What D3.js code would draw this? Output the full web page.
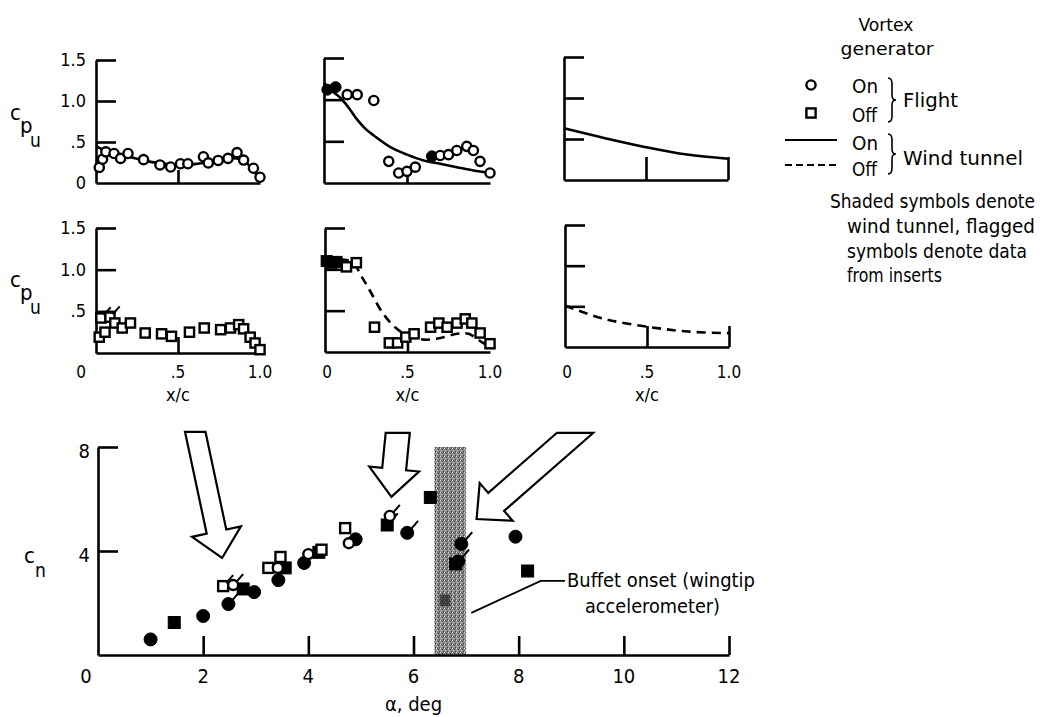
<!DOCTYPE html>
<html><head><meta charset="utf-8">
<script src="https://cdn.jsdelivr.net/npm/d3@7"></script>
<style>
body{margin:0;background:#fff;}
svg{display:block;}
text{font-family:"Liberation Sans Narrow","Arial Narrow","DejaVu Sans Condensed",sans-serif;fill:#000;}
</style></head><body>
<svg id="c" width="1041" height="717"></svg>
<script>
// ---------- DATA ----------
// Upper-surface pressure panels (x/c, c_pu)
const tlFlightOn = [[0.02,0.19],[0.04,0.29],[0.06,0.38],[0.11,0.36],[0.15,0.30],[0.195,0.36],[0.29,0.285],[0.39,0.22],[0.455,0.195],[0.515,0.235],[0.56,0.235],[0.655,0.32],[0.685,0.245],[0.745,0.275],[0.805,0.30],[0.86,0.37],[0.90,0.28],[0.96,0.18],[1.0,0.07]];
const tlTunnelOn = [[0,0.45],[0.05,0.4],[0.1,0.36],[0.2,0.32],[0.3,0.27],[0.4,0.24],[0.5,0.22],[0.6,0.23],[0.7,0.26],[0.8,0.3],[0.86,0.3],[0.9,0.27],[0.95,0.18],[1.0,0.03]];
const tmFlightOn = [[0.14,1.06],[0.2,1.06],[0.3,0.99],[0.39,0.26],[0.45,0.12],[0.5,0.14],[0.55,0.19],[0.7,0.33],[0.75,0.34],[0.8,0.39],[0.86,0.44],[0.9,0.39],[0.94,0.26],[1.0,0.12]];
const tmTunnelOnPts = [[0.02,1.12],[0.07,1.15],[0.65,0.32]];
const tmTunnelOn = [[0,1.2],[0.05,1.1],[0.1,1.02],[0.15,0.9],[0.2,0.76],[0.25,0.65],[0.3,0.57],[0.4,0.43],[0.5,0.34],[0.6,0.27],[0.7,0.23],[0.8,0.19],[0.9,0.15],[1.0,0.12]];
const trTunnelOn = [[0,0.63],[0.25,0.51],[0.5,0.40],[0.75,0.31],[1.0,0.26]];
const mlFlightOff = [[0.02,0.19],[0.055,0.25],[0.03,0.42],[0.085,0.43],[0.115,0.36],[0.16,0.3],[0.21,0.36],[0.3,0.24],[0.4,0.23],[0.46,0.2],[0.57,0.25],[0.66,0.3],[0.76,0.28],[0.82,0.3],[0.87,0.34],[0.9,0.29],[0.94,0.19],[0.97,0.12],[1.0,0.04]];
const mmFlightOff = [[0.13,1.03],[0.19,1.08],[0.3,0.3],[0.39,0.11],[0.44,0.11],[0.49,0.18],[0.54,0.22],[0.64,0.3],[0.69,0.35],[0.74,0.3],[0.8,0.35],[0.85,0.4],[0.89,0.35],[0.94,0.23],[1.0,0.1]];
const mmTunnelOffPts = [[0.01,1.1],[0.04,1.08],[0.07,1.09]];
const mmTunnelOff = [[0,1.12],[0.1,1.12],[0.17,1.08],[0.22,0.92],[0.27,0.75],[0.35,0.47],[0.43,0.29],[0.5,0.2],[0.6,0.15],[0.7,0.17],[0.8,0.22],[0.87,0.22],[0.95,0.12],[1.0,0.06]];
const mrTunnelOff = [[0,0.51],[0.23,0.35],[0.5,0.25],[0.75,0.19],[1.0,0.17]];
const panelYTicks = [0.5, 1.0, 1.5];
const topYLabels = [[0,"0"],[0.5,".5"],[1.0,"1.0"],[1.5,"1.5"]];
const midYLabels = [[0.5,".5"],[1.0,"1.0"],[1.5,"1.5"]];
const panelXLabels = [[0,"0"],[0.5,".5"],[1.0,"1.0"]];

// Normal-force coefficient vs angle of attack (alpha, c_n, flagged)
const flightOnCirc = [[2.57,2.69,1],[3.42,3.35,0],[4.0,3.88,0],[4.77,4.3,0],[5.55,5.35,1]];
const flightOffSq = [[2.38,2.65,1],[3.24,3.35,0],[3.47,3.77,0],[4.25,4.05,0],[4.7,4.88,0]];
const tunnelOnCirc = [[1.0,0.6,0],[2.0,1.5,0],[2.48,1.96,1],[2.97,2.42,0],[3.43,2.88,0],[3.92,3.54,0],[4.9,4.45,0],[5.88,4.7,1],[6.91,4.27,1],[6.85,3.6,1],[7.94,4.55,0]];
const tunnelOffSq = [[1.45,1.25,0],[2.76,2.54,0],[3.56,3.35,0],[4.2,3.95,0],[5.5,5.0,1],[6.32,6.06,0],[6.8,3.5,0],[8.17,3.23,0]];
const tunnelOffSqHidden = [[6.6,2.1,0]];
const buffetBand = [6.4, 7.0];
const alphaTicks = [0,2,4,6,8,10,12];
const cnTicks = [4,8];
// arrows: [tail alpha, tail cn, tip alpha, tip cn]
const arrowsData = [[1.85,8.58,2.36,3.73],[5.70,8.54,5.58,6.08],[9.07,8.54,7.2,5.23]];

// ---------- DRAW ----------
const svg = d3.select("#c");
const defs = svg.append("defs");
const pat = defs.append("pattern").attr("id","stip").attr("width",4).attr("height",4).attr("patternUnits","userSpaceOnUse");
pat.append("rect").attr("width",4).attr("height",4).attr("fill","#8e8e8e");
[[0,0,"#e8e8e8"],[2,1,"#303030"],[1,2,"#c8c8c8"],[3,3,"#404040"],[3,0,"#666"],[1,0,"#555"]].forEach(p=>pat.append("rect").attr("x",p[0]).attr("y",p[1]).attr("width",1).attr("height",1).attr("fill",p[2]));

function txt(g,x,y,s,size,anchor,len){
  const t=g.append("text").attr("x",x).attr("y",y).attr("font-size",size).attr("text-anchor",anchor||"start").text(s);
  if(len){t.attr("textLength",len).attr("lengthAdjust","spacingAndGlyphs");}
  return t;
}
function marker(g,type,x,y,r,flag){
  const open = type[0]==="o";
  if(type[1]==="c"){
    g.append("circle").attr("cx",x).attr("cy",y).attr("r",r).attr("fill",open?"#fff":"#000").attr("stroke","#000").attr("stroke-width",open?2.4:1);
  } else {
    g.append("rect").attr("x",x-r).attr("y",y-r).attr("width",2*r).attr("height",2*r).attr("fill",open?"#fff":"#000").attr("stroke","#000").attr("stroke-width",open?2.4:1);
  }
  if(flag){
    g.append("line").attr("x1",x+r*0.6).attr("y1",y-r*0.6).attr("x2",x+r*0.6+7).attr("y2",y-r*0.6-8).attr("stroke","#000").attr("stroke-width",2);
  }
}

const panels = [
  {xr:[96,260], yr:[183,60], xt:[0.5], xtl:13, yl:topYLabels, xl:null,
   curve:tlTunnelOn, dash:false, open:tlFlightOn, openType:"oc", filled:[], filledType:"fc"},
  {xr:[324,490], yr:[183,58], xt:[0.5], xtl:7, yl:null, xl:null,
   curve:tmTunnelOn, dash:false, open:tmFlightOn, openType:"oc", filled:tmTunnelOnPts, filledType:"fc"},
  {xr:[564,728], yr:[180,57], xt:[0.5,1.0], xtl:23, yl:null, xl:null,
   curve:trTunnelOn, dash:false, open:[], openType:"oc", filled:[], filledType:"fc"},
  {xr:[96,260], yr:[353,228], xt:[0.5], xtl:16, yl:midYLabels, xl:panelXLabels, zeroShift:-15,
   curve:null, dash:true, open:mlFlightOff, openType:"os", filled:[], filledType:"fs", flagIdx:[2,3]},
  {xr:[325,490], yr:[352,228], xt:[0.5], xtl:15, yl:null, xl:panelXLabels, zeroShift:2,
   curve:mmTunnelOff, dash:true, open:mmFlightOff, openType:"os", filled:mmTunnelOffPts, filledType:"fs"},
  {xr:[565,729], yr:[347,225], xt:[0.5,1.0], xtl:21, yl:null, xl:panelXLabels, zeroShift:2,
   curve:mrTunnelOff, dash:true, open:[], openType:"os", filled:[], filledType:"fs"}
];

panels.forEach(p=>{
  const g = svg.append("g");
  const xs = d3.scaleLinear([0,1],p.xr);
  const ys = d3.scaleLinear([0,1.5],p.yr);
  const ya = g.append("g").attr("transform",`translate(${p.xr[0]},0)`)
    .call(d3.axisLeft(ys).tickValues(panelYTicks).tickSizeInner(-20).tickSizeOuter(0).tickFormat(""));
  const xa = g.append("g").attr("transform",`translate(0,${p.yr[0]})`)
    .call(d3.axisBottom(xs).tickValues(p.xt).tickSizeInner(-p.xtl).tickSizeOuter(0).tickFormat(""));
  [ya,xa].forEach(a=>{a.selectAll("path,line").attr("stroke","#000").attr("stroke-width",2.6);});
  if(p.yl){p.yl.forEach(d=>txt(g,86,ys(d[0])+6,d[1],18,"end"));}
  if(p.xl){p.xl.forEach(d=>txt(g,xs(d[0])+(d[0]===0?p.zeroShift:0),378,d[1],17,"middle"));
    txt(g,(p.xr[0]+p.xr[1])/2,401,"x/c",18,"middle");}
  if(p.curve){
    g.append("path").datum(p.curve)
      .attr("d",d3.line().x(d=>xs(d[0])).y(d=>ys(d[1])).curve(d3.curveCatmullRom))
      .attr("fill","none").attr("stroke","#000").attr("stroke-width",2.6)
      .attr("stroke-dasharray",p.dash?"9,6":null);
  }
  p.filled.forEach(d=>marker(g,p.filledType,xs(d[0]),ys(d[1]),5.5,0));
  p.open.forEach((d,i)=>marker(g,p.openType,xs(d[0]),ys(d[1]),4.6,p.flagIdx&&p.flagIdx.includes(i)));
});

// c_pu labels
[[0,120],[1,287]].forEach(([k,b])=>{
  const g=svg.append("g");
  txt(g,10,b,"c",22);
  txt(g,20,b+13,"p",22);
  txt(g,30,b+27,"u",19);
});

// ---------- Bottom chart ----------
const xB = d3.scaleLinear([0,12],[98,729]);
const yB = d3.scaleLinear([0,8],[655,447]);
const gb = svg.append("g");
gb.append("rect").attr("x",xB(buffetBand[0])).attr("y",yB(8)).attr("width",xB(buffetBand[1])-xB(buffetBand[0])).attr("height",yB(0)-yB(8)).attr("fill","url(#stip)");
const xaB = gb.append("g").attr("transform",`translate(0,${yB(0)})`)
  .call(d3.axisBottom(xB).tickValues(alphaTicks.filter(v=>v>0)).tickSizeInner(-19).tickSizeOuter(0).tickFormat(""));
const yaB = gb.append("g").attr("transform",`translate(${xB(0)},0)`)
  .call(d3.axisLeft(yB).tickValues(cnTicks).tickSizeInner(-20).tickSizeOuter(0).tickFormat(""));
[xaB,yaB].forEach(a=>{a.selectAll("path,line").attr("stroke","#000").attr("stroke-width",2.6);});
alphaTicks.forEach(v=>txt(gb,xB(v)+(v===0?-12:0),683,String(v),20,"middle"));
cnTicks.forEach(v=>txt(gb,90,yB(v)+11,String(v),20,"end"));
txt(gb,xB(6),711,"α, deg",20,"middle");
txt(gb,24,563,"c",22);
txt(gb,35,577,"n",19);

tunnelOffSqHidden.forEach(d=>{gb.append("rect").attr("x",xB(d[0])-5).attr("y",yB(d[1])-6).attr("width",10).attr("height",12).attr("fill","#222").attr("opacity",0.7);});
tunnelOnCirc.forEach(d=>marker(gb,"fc",xB(d[0]),yB(d[1]),6.5,d[2]));
tunnelOffSq.forEach(d=>marker(gb,"fs",xB(d[0]),yB(d[1]),6,d[2]));
flightOffSq.forEach(d=>marker(gb,"os",xB(d[0]),yB(d[1]),5,d[2]));
flightOnCirc.forEach(d=>marker(gb,"oc",xB(d[0]),yB(d[1]),5,d[2]));

// arrows
const arrowDims=[[20,50,27],[24,50,28],[24,50,26]];
arrowsData.forEach((a,i)=>{
  const tail=[xB(a[0]),yB(a[1])], tip=[xB(a[2]),yB(a[3])];
  const L=Math.hypot(tip[0]-tail[0],tip[1]-tail[1]);
  const d=[(tip[0]-tail[0])/L,(tip[1]-tail[1])/L];
  const n=[-d[1],d[0]];
  const [w,hw,hl]=arrowDims[i];
  const base=[tip[0]-d[0]*hl,tip[1]-d[1]*hl];
  const side=s=>{
    const sb=[base[0]+n[0]*s*w/2,base[1]+n[1]*s*w/2];
    const wing=[base[0]+n[0]*s*hw/2,base[1]+n[1]*s*hw/2];
    const t=(sb[1]-tail[1])/d[1];
    const tp=[sb[0]-d[0]*t,sb[1]-d[1]*t];
    return {sb,wing,tp};
  };
  const A=side(1),B=side(-1);
  const pts=[A.tp,A.sb,A.wing,tip,B.wing,B.sb,B.tp];
  gb.append("path").attr("d","M"+pts.map(p=>p.join(",")).join("L")+"Z")
    .attr("fill","#fff").attr("stroke","#000").attr("stroke-width",2.2).attr("stroke-linejoin","miter");
});

gb.append("path").attr("d",`M${xB(7.1)},${yB(1.62)}L${xB(8.42)},${yB(2.85)}L${xB(8.88)},${yB(2.85)}`)
  .attr("fill","none").attr("stroke","#000").attr("stroke-width",1.8);
txt(gb,567,587,"Buffet onset (wingtip",19,"start",188);
txt(gb,585,613,"accelerometer)",19,"start",135);

// ---------- Legend ----------
const gl = svg.append("g");
txt(gl,886,31,"Vortex",18,"middle",55);
txt(gl,887,55,"generator",18,"middle",93);
marker(gl,"oc",811,85,4.6,0);
marker(gl,"os",811,113,4.6,0);
gl.append("line").attr("x1",785).attr("x2",837).attr("y1",140).attr("y2",140).attr("stroke","#000").attr("stroke-width",2);
gl.append("line").attr("x1",785).attr("x2",837).attr("y1",165).attr("y2",165).attr("stroke","#000").attr("stroke-width",2).attr("stroke-dasharray","7,4");
txt(gl,852,93,"On",20,"start",26);
txt(gl,852,122,"Off",20,"start",25);
txt(gl,852,150,"On",20,"start",26);
txt(gl,852,176,"Off",20,"start",25);
const brace=(x,y0,y1)=>{const m=(y0+y1)/2;
  gl.append("path").attr("d",`M${x},${y0} q4,0 4,6 V${m-5} q0,5 4,5 q-4,0 -4,5 V${y1-6} q0,6 -4,6`)
    .attr("fill","none").attr("stroke","#000").attr("stroke-width",1.6);};
brace(888,78,122);
brace(888,134,174);
txt(gl,903,107,"Flight",20,"start",55);
txt(gl,903,165,"Wind tunnel",20,"start",120);
txt(gl,830,208,"Shaded symbols denote",19,"start",205);
txt(gl,847,233,"wind tunnel, flagged",19,"start",188);
txt(gl,847,258,"symbols denote data",19,"start",180);
txt(gl,847,282,"from inserts",19,"start",95);
</script>
</body></html>
